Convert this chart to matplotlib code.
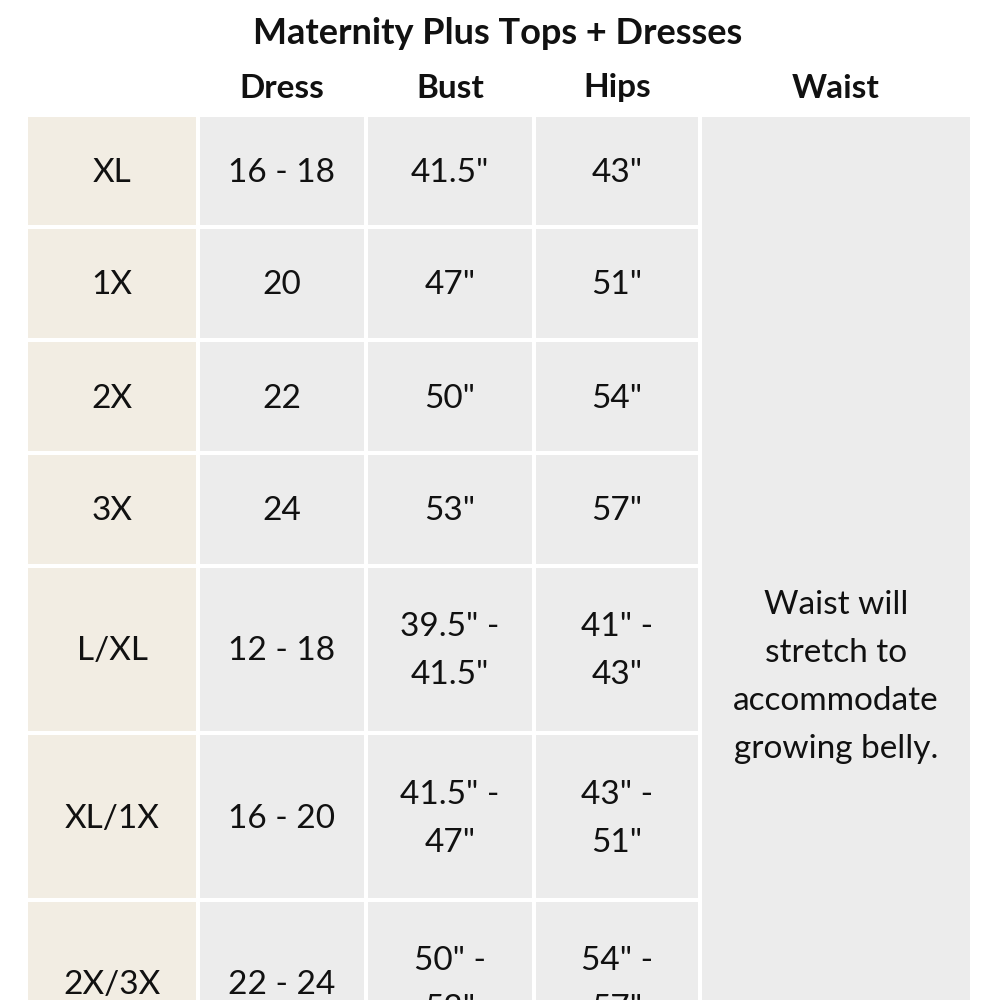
import matplotlib
matplotlib.use("Agg")
import matplotlib.pyplot as plt
from matplotlib.patches import Rectangle

title = "Maternity Plus Tops + Dresses"
headers = ["Dress", "Bust", "Hips", "Waist"]
sizes = ["XL", "1X", "2X", "3X", "L/XL", "XL/1X", "2X/3X"]
dress = ["16 - 18", "20", "22", "24", "12 - 18", "16 - 20", "22 - 24"]
bust = ['41.5"', '47"', '50"', '53"', '39.5" -\n41.5"', '41.5" -\n47"', '50" -\n53"']
hips = ['43"', '51"', '54"', '57"', '41" -\n43"', '43" -\n51"', '54" -\n57"']
waist_note = "Waist will\nstretch to\naccommodate\ngrowing belly."

plt.rcParams['font.family'] = ['Lato', 'DejaVu Sans']
fig = plt.figure(figsize=(10, 10), dpi=100)
ax = fig.add_axes([0, 0, 1, 1])
ax.set_xlim(0, 1000); ax.set_ylim(1000, 0); ax.axis('off')

col_x = [(28, 196), (200, 364), (368, 532), (536, 698), (702, 970)]
row_y = [(117, 225), (229, 338), (342, 451), (455, 564), (568, 731), (735, 898), (902, 1065)]
beige = "#f2ede3"; gray = "#ececec"; fs = 24

ax.text(498, 33, title, ha='center', va='center', fontsize=26, fontweight='bold', color='#111')
for (x0, x1), h in zip(col_x[1:], headers):
    ax.text((x0 + x1) / 2, 88, h, ha='center', va='center', fontsize=24, fontweight='bold', color='#111')

for r, (y0, y1) in enumerate(row_y):
    for c, (x0, x1) in enumerate(col_x[:4]):
        ax.add_patch(Rectangle((x0, y0), x1 - x0, y1 - y0, color=beige if c == 0 else gray, lw=0))
    cols = [sizes[r], dress[r], bust[r], hips[r]]
    for c, t in enumerate(cols):
        x0, x1 = col_x[c]
        ax.text((x0 + x1) / 2, (y0 + y1) / 2 + 2, t, ha='center', va='center', fontsize=fs,
                color='#111', linespacing=1.75)
x0, x1 = col_x[4]
ax.add_patch(Rectangle((x0, 117), x1 - x0, 950, color=gray, lw=0))
ax.text((x0 + x1) / 2, 677, waist_note, ha='center', va='center', fontsize=fs, color='#111', linespacing=1.75)
fig.savefig("out.png", dpi=100, facecolor='white')
